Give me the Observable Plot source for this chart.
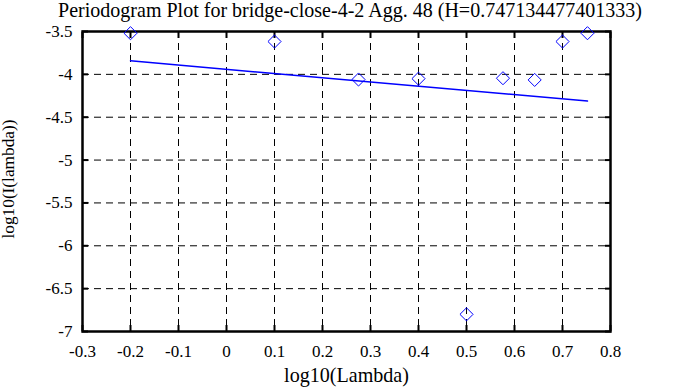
<!DOCTYPE html>
<html>
<head>
<meta charset="utf-8">
<script src="https://cdn.jsdelivr.net/npm/d3@7"></script>
<script src="https://cdn.jsdelivr.net/npm/@observablehq/plot@0.6"></script>
<style>
  html, body { margin: 0; padding: 0; background: #fff; }
  #chart svg { display: block; }
  #chart svg, #chart svg text { font-family: "Liberation Serif", "Times New Roman", serif; }
</style>
</head>
<body>
<div id="chart"></div>
<script>
const titleText = "Periodogram Plot for bridge-close-4-2 Agg. 48 (H=0.747134477401333)";
const xLabel = "log10(Lambda)";
const yLabel = "log10(I(lambda))";

const pointX = [-0.2, 0.1, 0.275, 0.4, 0.5, 0.576, 0.642, 0.7, 0.752];
const pointY = [-3.52, -3.617, -4.06, -4.05, -6.80, -4.045, -4.065, -3.617, -3.52];

const fitX = [-0.2, 0.752];
const fitY = [-3.842, -4.312];

const xTicks = [-0.3, -0.2, -0.1, 0, 0.1, 0.2, 0.3, 0.4, 0.5, 0.6, 0.7, 0.8];
const yTicks = [-3.5, -4, -4.5, -5, -5.5, -6, -6.5, -7];

const points = pointX.map((x, i) => ({x, y: pointY[i]}));
const fit = fitX.map((x, i) => ({x, y: fitY[i]}));

const font = "'Liberation Serif', 'Times New Roman', serif";
const fmt = d => String(d);

const chart = Plot.plot({
  width: 688,
  height: 387,
  marginLeft: 82,
  marginRight: 78,
  marginTop: 31,
  marginBottom: 56,
  style: {fontFamily: font, fontSize: "17px", color: "#000", background: "#fff"},
  x: {domain: [-0.3, 0.8]},
  y: {domain: [-7, -3.5]},
  marks: [
    Plot.gridX(xTicks, {stroke: "#000", strokeOpacity: 1, strokeWidth: 1, strokeDasharray: "7,5"}),
    Plot.gridY(yTicks, {stroke: "#000", strokeOpacity: 1, strokeWidth: 1, strokeDasharray: "7,5"}),
    Plot.axisX(xTicks, {anchor: "bottom", tickSize: -6, tickPadding: 19, tickFormat: fmt, label: null, fontSize: 17, fontFamily: font, strokeWidth: 2}),
    Plot.axisX(xTicks, {anchor: "top", tickSize: -6, text: null, label: null, strokeWidth: 2}),
    Plot.axisY(yTicks, {anchor: "left", tickSize: -6, tickPadding: 16, tickFormat: fmt, label: null, fontSize: 17, fontFamily: font, strokeWidth: 2}),
    Plot.axisY(yTicks, {anchor: "right", tickSize: -6, text: null, label: null, strokeWidth: 2}),
    Plot.frame({stroke: "#000", strokeWidth: 2.5}),
    Plot.line(fit, {x: "x", y: "y", stroke: "#0000ff", strokeWidth: 1.5}),
    Plot.dot(points, {x: "x", y: "y", symbol: "diamond2", r: 5.9, stroke: "#0000ff", strokeWidth: 1, fill: "none"}),
    Plot.text([titleText], {frameAnchor: "top", dx: 3.5, dy: -14.5, fontSize: 18, fontFamily: font, fill: "#000", lineAnchor: "bottom"}),
    Plot.text([xLabel], {frameAnchor: "bottom", dy: 50, fontSize: 18, fontFamily: font, fill: "#000", lineAnchor: "bottom"}),
    Plot.text([yLabel], {frameAnchor: "left", dx: -69, dy: -2.5, rotate: -90, textAnchor: "middle", fontSize: 18, fontFamily: font, fill: "#000", lineAnchor: "bottom"})
  ]
});
document.getElementById("chart").appendChild(chart);

// fit label font sizes to the reference text lengths; force serif family on every text
const targets = new Map([[titleText, 584], [xLabel, 125], [yLabel, 119]]);
chart.querySelectorAll("text").forEach(el => {
  el.style.fontFamily = font;
  const t = el.textContent;
  if (targets.has(t)) {
    const w = el.getComputedTextLength();
    const fs = parseFloat(getComputedStyle(el).fontSize);
    if (w > 0) el.style.fontSize = (fs * targets.get(t) / w).toFixed(2) + "px";
  } else {
    el.style.fontSize = "17px";
  }
});
</script>
</body>
</html>
